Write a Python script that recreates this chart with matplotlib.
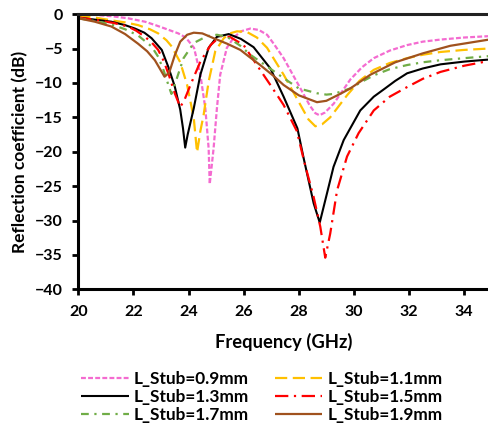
import matplotlib
matplotlib.use("Agg")
import matplotlib.pyplot as plt

plt.rcParams['font.family'] = ['Lato', 'DejaVu Sans']
plt.rcParams['font.weight'] = 'bold'

# ---- data ----
f_09 = [20, 20.6, 21.2, 21.8, 22.42, 22.8, 23.15, 23.63, 23.9, 24.2, 24.43, 24.61, 24.73, 24.77, 24.91, 25.03,
        25.15, 25.39, 25.64, 25.9, 26.24, 26.55, 26.85, 27.09, 27.45, 28.06, 28.4, 28.6, 28.75, 28.95, 29.27,
        29.87, 30.3, 30.72, 31.3, 31.93, 32.5, 33.14, 34.0, 34.9]
s_09 = [0.0, -0.1, -0.3, -0.6, -1.1, -1.6, -2.1, -2.8, -3.4, -4.9, -8.8, -13.7, -19.5, -24.7, -19.5, -13.7,
        -8.8, -4.9, -3.4, -2.5, -2.1, -2.3, -3.0, -4.3, -6.4, -10.8, -13.3, -14.4, -14.7, -14.3, -13.0,
        -9.5, -7.7, -6.4, -5.3, -4.5, -4.0, -3.7, -3.4, -3.2]

f_11 = [20, 20.6, 21.2, 21.7, 22.17, 22.6, 22.9, 23.2, 23.39, 23.7, 23.95, 24.19, 24.31, 24.43, 24.55, 24.73,
        24.97, 25.28, 25.5, 25.76, 26.12, 26.48, 26.85, 27.45, 28.06, 28.35, 28.6, 28.85, 29.14, 29.75, 30.2,
        30.72, 31.3, 31.93, 32.5, 33.14, 34.0, 34.9]
s_11 = [-0.3, -0.5, -0.9, -1.2, -1.6, -2.2, -2.8, -3.8, -4.7, -7.0, -10.3, -15.1, -20.1, -17.0, -14.6, -9.8,
        -5.4, -3.5, -2.8, -2.5, -2.6, -3.4, -4.9, -8.8, -13.2, -15.3, -16.3, -16.0, -15.0, -11.8, -9.7,
        -8.1, -7.1, -6.4, -5.9, -5.5, -5.2, -5.0]

f_13 = [20, 20.6, 21.2, 21.7, 22.06, 22.4, 22.66, 23.03, 23.27, 23.5, 23.7, 23.8, 23.88, 23.97, 24.19, 24.43,
        24.73, 25.03, 25.46, 25.9, 26.36, 26.97, 27.45, 27.95, 28.18, 28.54, 28.76, 29.02, 29.26, 29.63, 30.23,
        30.72, 31.13, 31.5, 31.93, 32.5, 33.14, 34.0, 34.9]
s_13 = [-0.5, -0.8, -1.1, -1.6, -2.1, -2.7, -3.5, -5.2, -7.7, -10.5, -13.9, -16.6, -19.4, -17.5, -13.7, -8.8,
        -4.9, -3.3, -2.9, -3.6, -4.8, -7.9, -12.0, -16.6, -21.0, -27.5, -30.3, -26.1, -22.2, -18.3, -14.0,
        -12.0, -10.8, -9.7, -8.6, -7.9, -7.3, -6.9, -6.6]

f_15 = [20, 20.72, 21.3, 21.8, 22.1, 22.42, 22.66, 22.9, 23.1, 23.3, 23.5, 23.7, 23.85, 24.07, 24.43, 24.8,
        25.16, 25.5, 26.0, 26.48, 26.97, 27.45, 27.93, 28.2, 28.54, 28.78, 28.96, 29.14, 29.39, 29.75, 30.17,
        30.72, 31.3, 31.93, 32.5, 33.14, 34.0, 34.9]
s_15 = [-0.5, -0.9, -1.3, -1.8, -2.4, -3.3, -4.1, -5.2, -6.8, -9.0, -11.5, -13.5, -12.5, -10.3, -6.9, -4.5,
        -3.2, -3.3, -4.5, -7.4, -10.3, -13.2, -17.0, -21.5, -26.6, -30.9, -35.4, -31.9, -25.6, -20.7, -17.3,
        -14.0, -12.0, -10.6, -9.4, -8.4, -7.5, -6.8]

f_17 = [20, 20.6, 21.2, 21.7, 22.17, 22.66, 22.9, 23.1, 23.27, 23.38, 23.58, 23.82, 24.19, 24.67, 25.03, 25.4,
        25.88, 26.24, 26.85, 27.45, 28.0, 28.66, 29.0, 29.27, 29.87, 30.3, 30.72, 31.3, 31.93, 32.5, 33.14,
        34.0, 34.9]
s_17 = [-0.6, -1.0, -1.5, -2.2, -3.1, -4.7, -6.2, -8.2, -10.3, -11.6, -9.3, -6.4, -4.2, -3.2, -3.0, -3.3,
        -4.6, -5.9, -7.6, -9.3, -10.8, -11.5, -11.7, -11.6, -10.8, -9.8, -8.9, -8.0, -7.4, -7.0, -6.7,
        -6.4, -6.1]

f_19 = [20, 20.6, 21.2, 21.7, 22.17, 22.5, 22.78, 23.0, 23.13, 23.3, 23.5, 23.7, 23.95, 24.19, 24.5, 24.91,
        25.4, 25.88, 26.2, 26.6, 27.09, 27.45, 28.0, 28.66, 29.0, 29.5, 29.87, 30.6, 31.5, 32.5, 33.5, 34.9]
s_19 = [-0.6, -1.1, -1.8, -2.9, -4.3, -5.4, -6.7, -8.2, -9.1, -8.5, -6.0, -4.0, -3.0, -2.7, -2.8, -3.5,
        -4.3, -5.2, -6.2, -7.4, -9.0, -10.3, -11.8, -12.8, -12.6, -11.6, -10.8, -8.8, -7.0, -5.7, -4.6, -3.7]

labels = ['L_Stub=0.9mm', 'L_Stub=1.1mm', 'L_Stub=1.3mm', 'L_Stub=1.5mm', 'L_Stub=1.7mm', 'L_Stub=1.9mm']
x_ticks = [20, 22, 24, 26, 28, 30, 32, 34]
y_ticks = [0, -5, -10, -15, -20, -25, -30, -35, -40]

# ---- figure ----
fig = plt.figure(figsize=(4.89, 4.28), dpi=100)
ax = fig.add_axes([0.160, 0.324, 0.840, 0.643])

series = [
    (f_09, s_09, '#F46BD0', (0, (2.2, 1.0)), 1.6),
    (f_11, s_11, '#FFC000', (0, (5.5, 2.5)), 1.6),
    (f_13, s_13, '#000000', '-', 1.5),
    (f_15, s_15, '#FF0000', (0, (6, 2.5, 1, 2.5)), 1.6),
    (f_17, s_17, '#70AD47', (0, (3.5, 2.5, 1, 2.5)), 1.6),
    (f_19, s_19, '#A0521E', '-', 1.6),
]
handles = []
for (fx, sy, c, ls, lw), lab in zip(series, labels):
    h, = ax.plot(fx, sy, color=c, linestyle=ls, linewidth=lw, label=lab, solid_capstyle='butt')
    handles.append(h)

ax.set_xlim(20, 34.9)
ax.set_ylim(-40, 0)
ax.set_xticks(x_ticks)
ax.set_yticks(y_ticks)
ax.tick_params(axis='both', direction='out', length=4, width=2, labelsize=11.5)
ax.tick_params(axis='x', pad=7)
ax.tick_params(axis='y', pad=7)
for lbl in ax.get_xticklabels() + ax.get_yticklabels():
    lbl.set_fontweight('bold')
for side in ['left', 'bottom']:
    ax.spines[side].set_linewidth(2.2)
    ax.spines[side].set_color('black')
ax.spines['top'].set_linewidth(2.2)
ax.spines['top'].set_color('#222222')
ax.spines['right'].set_visible(False)

ax.set_xlabel('Frequency (GHz)', fontsize=13.2, fontweight='bold', labelpad=10)
ax.set_ylabel('Reflection coefficient (dB)', fontsize=12.5, fontweight='bold', labelpad=5)

order = [0, 2, 4, 1, 3, 5]
leg = fig.legend([handles[i] for i in order], [labels[i] for i in order],
                 ncol=2, loc='upper left', bbox_to_anchor=(0.166, 0.134),
                 frameon=False, fontsize=12.4, handlelength=2.75, handletextpad=0.3,
                 columnspacing=1.5, labelspacing=0.14, borderpad=0, borderaxespad=0)
for t in leg.get_texts():
    t.set_fontweight('bold')

fig.savefig('out.png', dpi=100)
